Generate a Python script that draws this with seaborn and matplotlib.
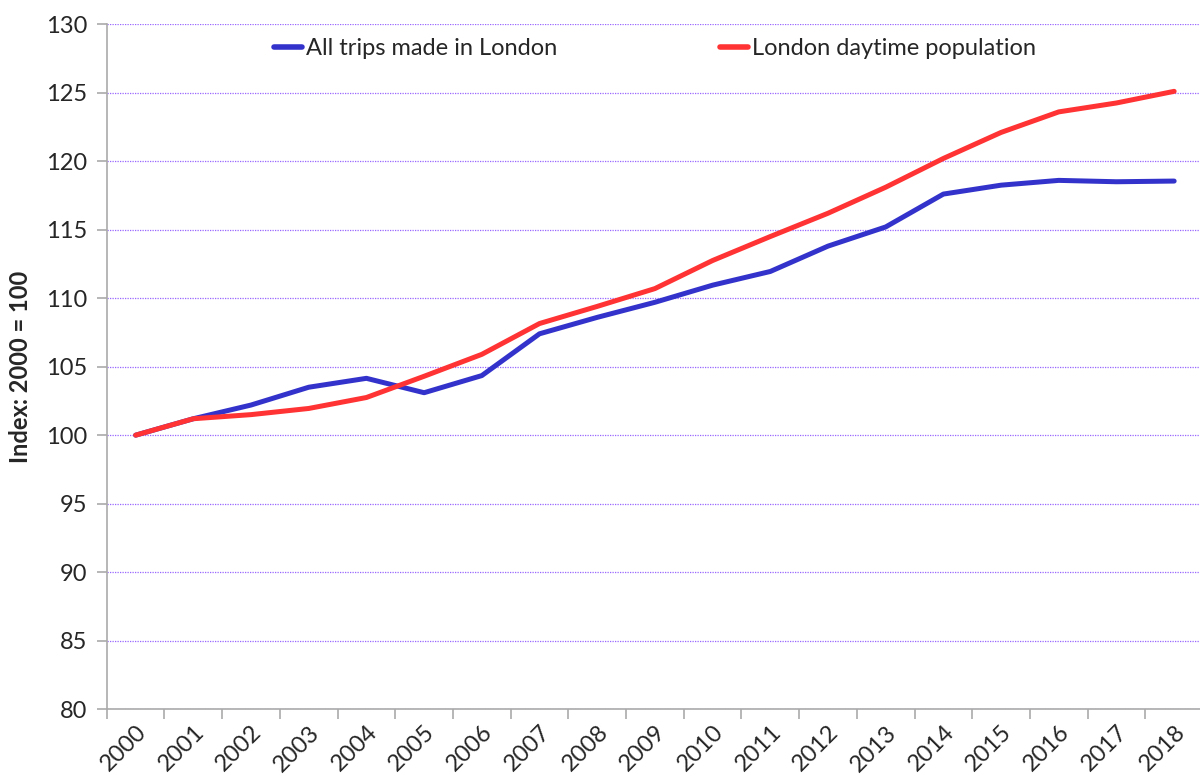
import pandas as pd
import matplotlib.pyplot as plt
import seaborn as sns

# values (index, 2000 = 100)
years = list(range(2000, 2019))
all_trips = [100.0, 101.2, 102.2, 103.5, 104.15, 103.1, 104.35, 107.4, 108.6, 109.7,
             110.95, 111.95, 113.8, 115.2, 117.6, 118.25, 118.6, 118.5, 118.55]
daytime_pop = [100.0, 101.2, 101.5, 101.95, 102.75, 104.3, 105.9, 108.15, 109.4, 110.7,
               112.75, 114.5, 116.2, 118.1, 120.2, 122.1, 123.6, 124.25, 125.1]
series_names = ["All trips made in London", "London daytime population"]
colors = ["#3333CC", "#FF3333"]

df = pd.DataFrame({
    "Year": years * 2,
    "Index": all_trips + daytime_pop,
    "Series": [series_names[0]] * len(years) + [series_names[1]] * len(years),
})

sns.set_style("white")
plt.rcParams['font.family'] = ['Lato', 'DejaVu Sans']

fig = plt.figure(figsize=(12, 7.81), dpi=100)
ax = fig.add_axes([0.089, 0.092, 0.9135, 0.877])

sns.lineplot(data=df, x="Year", y="Index", hue="Series", palette=colors,
             linewidth=3.6, ax=ax, legend=True)

# axis ranges and grid
ax.set_xlim(1999.5, 2018.5)
ax.set_ylim(80, 130)
ax.set_yticks(range(80, 131, 5))
ax.yaxis.grid(True, linestyle=(0, (1, 1)), color="#9966FF", linewidth=0.9)
ax.xaxis.grid(False)
ax.set_axisbelow(True)

for s in ["top", "right"]:
    ax.spines[s].set_visible(False)
for s in ["left", "bottom"]:
    ax.spines[s].set_color("#AAAAAA")
    ax.spines[s].set_linewidth(1.2)

# year labels at category centres, tick marks at category boundaries
ax.set_xticks(years)
ax.set_xticklabels([str(y) for y in years], rotation=45, ha="right",
                   rotation_mode="anchor", fontsize=17)
ax.set_xticks([y - 0.5 for y in years] + [2018.5], minor=True)
ax.tick_params(axis="x", which="major", length=0, pad=9)
ax.tick_params(axis="x", which="minor", length=7, color="#AAAAAA", width=1.2)
ax.tick_params(axis="y", length=7, color="#AAAAAA", width=1.2, labelsize=17, pad=7)
ax.tick_params(axis="y", left=True)
ax.tick_params(axis="x", bottom=True, which="both")

ax.set_xlabel("")
ax.set_ylabel("Index: 2000 = 100", fontsize=17, fontweight="bold", labelpad=10)

leg = ax.legend(loc="upper center", bbox_to_anchor=(0.5, 1.0), ncol=2, frameon=False,
                fontsize=17, handlelength=1.2, handletextpad=0.15, columnspacing=6.9,
                borderaxespad=0.2)
for line in leg.get_lines():
    line.set_linewidth(4)

fig.savefig("out.png", dpi=100)
